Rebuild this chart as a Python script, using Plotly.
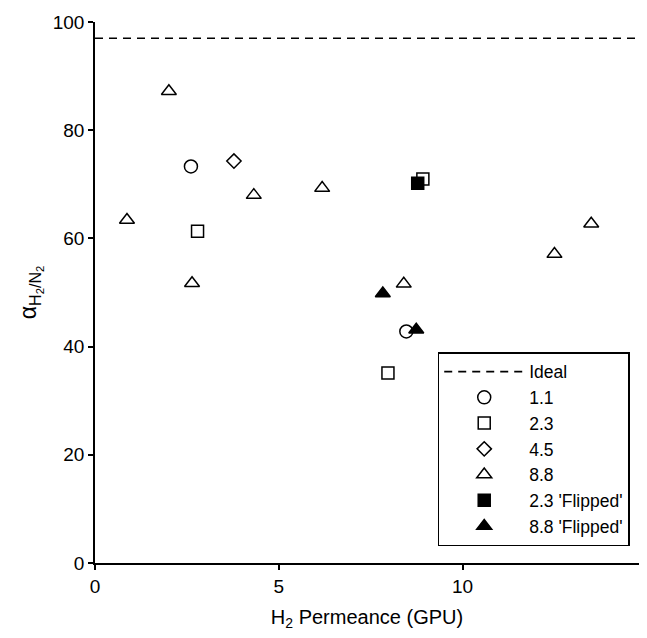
import plotly.graph_objects as go

ideal_value = 97
x_range = [0, 14.8]

s11_x = [2.61, 8.47]
s11_y = [73.3, 42.8]
s23_x = [2.79, 7.97, 8.92]
s23_y = [61.3, 35.1, 71.0]
s45_x = [3.78]
s45_y = [74.3]
s88_x = [2.01, 0.87, 2.64, 4.32, 6.18, 8.40, 12.5, 13.5]
s88_y = [87.2, 63.4, 51.7, 68.0, 69.3, 51.6, 57.1, 62.7]
f23_x = [8.78]
f23_y = [70.2]
f88_x = [7.83, 8.74]
f88_y = [49.8, 43.1]

FONT = "Liberation Sans, Arial, sans-serif"
fig = go.Figure()

fig.add_trace(go.Scatter(x=x_range, y=[ideal_value, ideal_value], mode="lines", name="Ideal",
                         line=dict(color="black", width=1.6, dash="8px,6px")))

def open_trace(x, y, sym, size, name):
    fig.add_trace(go.Scatter(x=x, y=y, mode="markers", name=name,
                             marker=dict(symbol=sym, size=size, color="white",
                                         line=dict(color="black", width=1.5))))

def filled_trace(x, y, sym, size, name):
    fig.add_trace(go.Scatter(x=x, y=y, mode="markers", name=name,
                             marker=dict(symbol=sym, size=size, color="black",
                                         line=dict(color="black", width=1.5))))

open_trace(s11_x, s11_y, "circle", 13, "1.1")
open_trace(s23_x, s23_y, "square", 12, "2.3")
open_trace(s45_x, s45_y, "diamond", 11, "4.5")
open_trace(s88_x, s88_y, "triangle-up", 13, "8.8")
filled_trace(f23_x, f23_y, "square", 12, "2.3 'Flipped'")
filled_trace(f88_x, f88_y, "triangle-up", 13, "8.8 'Flipped'")

axis_common = dict(showgrid=False, zeroline=False, showline=True, linecolor="black",
                   linewidth=1.5, ticks="outside", ticklen=5, tickwidth=1.5, tickcolor="black",
                   tickfont=dict(family=FONT, size=19, color="black"))

fig.update_layout(
    width=647, height=638,
    margin=dict(l=95, r=8, t=22, b=75, autoexpand=False),
    paper_bgcolor="white", plot_bgcolor="white",
    font=dict(family=FONT, size=19, color="black"),
    xaxis=dict(range=x_range, tickvals=[0, 5, 10], ticktext=["0", "5", "10"],
               title=dict(text="H<sub>2</sub> Permeance (GPU)", font=dict(family=FONT, size=20), standoff=14),
               **axis_common),
    yaxis=dict(range=[0, 100], tickvals=[0, 20, 40, 60, 80, 100],
               title=dict(text="α<sub>H<sub>2</sub>/N<sub>2</sub></sub>", font=dict(family=FONT, size=23), standoff=10),
               **axis_common),
    legend=dict(x=0.63, y=0.031, xanchor="left", yanchor="bottom",
                bgcolor="white", bordercolor="black", borderwidth=1.5,
                font=dict(family=FONT, size=17.5, color="black"),
                itemwidth=80, tracegroupgap=0),
)

fig.write_html("out.html")
